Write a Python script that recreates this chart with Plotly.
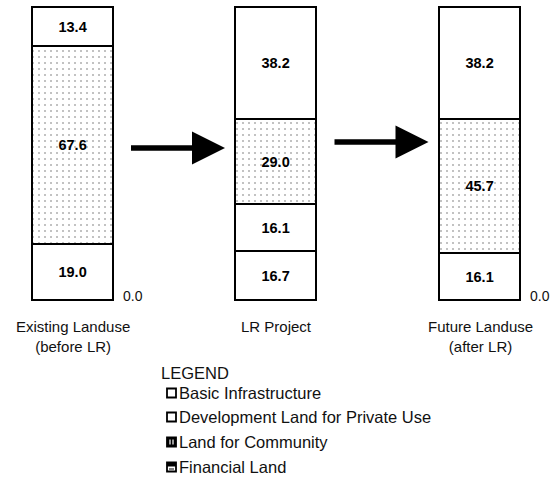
import plotly.graph_objects as go

# ---- data ----
categories = ["Existing Landuse", "LR Project", "Future Landuse"]
category_labels = ["Existing Landuse<br>(before LR)", "LR Project", "Future Landuse<br>(after LR)"]
series_names = ["Basic Infrastructure", "Development Land for Private Use",
                "Land for Community", "Financial Land"]
basic_infrastructure = [13.4, 38.2, 38.2]
development_land = [67.6, 29.0, 45.7]
land_for_community = [19.0, 16.1, 16.1]
financial_land = [0.0, 16.7, 0.0]
legend_styles = ["open", "open", "community", "financial"]

# ---- layout constants ----
W, H = 555, 480
unit_px = 203.5          # pixels per category step
x0_px = 73               # pixel centre of first bar
y0_px = 301              # pixel of value 0
px_per_val = 2.93        # pixels per percentage point
bar_w = 81 / unit_px

xr = [-x0_px / unit_px, (W - x0_px) / unit_px]
yr = [-(H - y0_px) / px_per_val, y0_px / px_per_val]

label_font = dict(family="Liberation Sans, Arial, sans-serif", size=15, color="#111")
legend_font = dict(family="Liberation Sans, Arial, sans-serif", size=16.5, color="#111")
num_font = dict(family="Liberation Sans Narrow, Liberation Sans, Arial", size=14.5, color="#000", weight="bold")

fig = go.Figure()

stack = [
    (series_names[3], financial_land, False),
    (series_names[2], land_for_community, False),
    (series_names[1], development_land, True),
    (series_names[0], basic_infrastructure, False),
]
for name, vals, stippled in stack:
    marker = dict(color="white", line=dict(color="black", width=1.8))
    if stippled:
        marker["pattern"] = dict(shape=".", fgcolor="#666", bgcolor="white",
                                 size=6, solidity=0.1)
    fig.add_trace(go.Bar(
        x=categories, y=vals, name=name, width=bar_w,
        marker=marker,
        text=[f"{v:.1f}" if v > 0 else "" for v in vals],
        textposition="inside", insidetextanchor="middle", textangle=0,
        textfont=num_font, showlegend=False, cliponaxis=False,
    ))

annotations = []
shapes = []
# zero-value labels next to bar bottoms
for i, v in enumerate(financial_land):
    if v == 0:
        annotations.append(dict(x=categories[i], y=v, xref="x", yref="y",
                                text=f"{v:.1f}", showarrow=False, xshift=60, yshift=5,
                                font=dict(family="Liberation Sans, Arial", size=14, color="#111")))

# category labels under bars
for cat, lab in zip(categories, category_labels):
    annotations.append(dict(x=cat, y=1 - 316 / H, xref="x", yref="paper",
                            text=lab, showarrow=False, yanchor="top", align="center",
                            font=label_font))

# arrows between bars
gap_tail = 16 / unit_px
gap_tip = 11 / unit_px
arrow_y = [52.2, 54.3]
for i in range(len(categories) - 1):
    tail = i + bar_w / 2 + gap_tail
    tip = i + 1 - bar_w / 2 - gap_tip
    annotations.append(dict(x=tip, y=arrow_y[i], ax=tail, ay=arrow_y[i],
                            xref="x", yref="y", axref="x", ayref="y",
                            text="", showarrow=True, arrowhead=2,
                            arrowwidth=5.5, arrowsize=1.2, arrowcolor="black"))

# legend block
annotations.append(dict(x=159 / W, y=1 - 373 / H, xref="paper", yref="paper",
                        text="LEGEND", showarrow=False, xanchor="left", yanchor="middle",
                        font=legend_font))
legend_rows_px = [393, 417, 442, 467]
box_l, box_r = 167, 176


def px(xp, yp):
    return xp / W, 1 - yp / H


for style, name, ypx in zip(legend_styles, series_names, legend_rows_px):
    x_l, y_t = px(box_l, ypx - 4.5)
    x_r, y_b = px(box_r, ypx + 4.5)
    fill = "black" if style == "community" else "white"
    shapes.append(dict(type="rect", xref="paper", yref="paper",
                       x0=x_l, x1=x_r, y0=y_b, y1=y_t,
                       line=dict(color="black", width=1.8), fillcolor=fill))
    if style == "community":
        for xl in (170, 173):
            a, b = px(xl, ypx - 2.5)
            c, d = px(xl, ypx + 2.5)
            shapes.append(dict(type="line", xref="paper", yref="paper",
                               x0=a, x1=c, y0=b, y1=d,
                               line=dict(color="white", width=1.2)))
    if style == "financial":
        a, b = px(box_l, ypx - 4.5)
        c, d = px(box_r, ypx - 0.5)
        shapes.append(dict(type="rect", xref="paper", yref="paper",
                           x0=a, x1=c, y0=d, y1=b,
                           line=dict(width=0), fillcolor="black"))
        a, b = px(box_l + 2, ypx + 2)
        c, d = px(box_r - 2, ypx + 2)
        shapes.append(dict(type="line", xref="paper", yref="paper",
                           x0=a, x1=c, y0=b, y1=d,
                           line=dict(color="black", width=1)))
    annotations.append(dict(x=177 / W, y=1 - ypx / H, xref="paper", yref="paper",
                            text=name, showarrow=False, xanchor="left",
                            yanchor="middle", font=legend_font))

fig.update_layout(
    width=W, height=H, barmode="stack", bargap=0,
    margin=dict(l=0, r=0, t=0, b=0),
    paper_bgcolor="white", plot_bgcolor="white",
    xaxis=dict(range=xr, visible=False, type="category", fixedrange=True),
    yaxis=dict(range=yr, visible=False, fixedrange=True),
    annotations=annotations,
    shapes=shapes,
    uniformtext=dict(minsize=8, mode="show"),
)

fig.write_html("out.html")
